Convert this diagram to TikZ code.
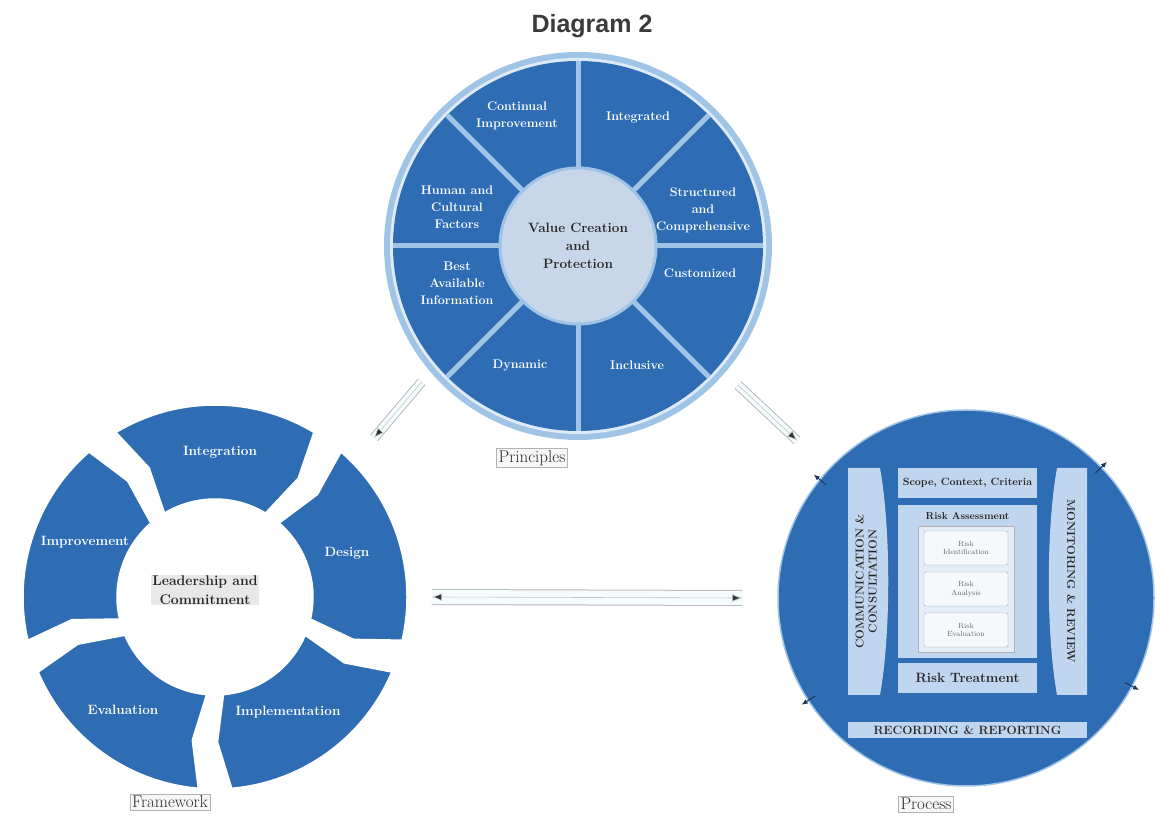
\documentclass[tikz,border=0pt]{standalone}
\usepackage{fontspec}
\newfontfamily\titlefont{Liberation Sans}
\usetikzlibrary{arrows.meta,positioning,calc}

\definecolor{segblue}{RGB}{46,108,180}
\definecolor{rimblue}{RGB}{160,196,230}
\definecolor{paleblue}{RGB}{192,214,238}
\definecolor{corefill}{RGB}{200,214,234}
\definecolor{inkgray}{RGB}{58,58,58}

\tikzset{
  seglabel/.style={text=white, font=\bfseries\fontsize{12.5}{17}\selectfont, align=center, inner sep=0pt},
  ringlabel/.style={text=white, font=\bfseries\fontsize{13.5}{17}\selectfont, inner sep=0pt},
  corelabel/.style={text=black!85, font=\bfseries\fontsize{13.5}{18}\selectfont, align=center},
  fwseg/.style={fill=segblue, draw=white, line width=1.5pt},
  pbox/.style={fill=paleblue, inner sep=0pt, text=black!85, font=\bfseries\fontsize{#1}{#1}\selectfont},
  subbox/.style={fill=white!85!paleblue, draw=gray!70, rounded corners=2pt, minimum width=84pt, minimum height=34pt,
    align=center, text=gray!80!black, font=\fontsize{7.5}{8.5}\selectfont},
  tag/.style={draw=gray!60, fill=gray!6, text=gray!35!black, font=\fontsize{17}{19}\selectfont, inner sep=2pt},
  linkband/.style={draw=gray!55, double=cyan!4, double distance=#1, line width=1pt},
  linktip/.style={draw=gray!45, line width=0.6pt},
  linkhead/.tip={Latex[length=10pt,width=8pt,fill=gray!40!black]},
  edgetip/.style={-{Latex[length=6pt,width=5pt]}, draw=segblue!50!black, line width=1pt}
}

\begin{document}
\begin{tikzpicture}[x=1pt,y=1pt]
\useasboundingbox (0,0) rectangle (1161,819);

\node[font=\titlefont\bfseries\fontsize{25}{28}\selectfont, text=inkgray] (title) at (592,793) {Diagram 2};

% principles wheel
\coordinate (prin) at (578,573);
\fill[rimblue] (prin) circle (194);
\fill[rimblue!35!white] (prin) circle (188);
\fill[segblue] (prin) circle (185);
\foreach \a in {0,45,...,315}
  \draw[rimblue, line width=5pt] (prin) -- ++(\a:185);
\node[circle, fill=corefill, draw=rimblue, line width=3pt, minimum size=156pt] (core) at (prin) {};
\node[corelabel] (vcp) at (prin) {Value Creation\\and\\Protection};
\foreach \n/\x/\y/\txt in {
    contin/-61/130/{Continual\\Improvement},
    integ/60/129/Integrated,
    struct/125/36/{Structured\\and\\Comprehensive},
    custom/122/-27/Customized,
    incl/59/-119/Inclusive,
    dyn/-58/-119/Dynamic,
    best/-121/-37/{Best\\Available\\Information},
    human/-121/39/{Human and\\Cultural\\Factors}}
  \node[seglabel] (p-\n) at ($(prin)+(\x,\y)$) {\txt};
\node[tag] (prinTag) at (532,361) {Principles};

% framework ring
\coordinate (frame) at (215,222);
\begin{scope}[shift={(frame)}]
  \foreach \a in {90,18,-54,-126,-198}
    \path[fwseg] (\a+31:192) arc[start angle=\a+31, end angle=\a-31, radius=192]
      -- (\a-35:145) -- (\a-31:98) arc[start angle=\a-31, end angle=\a+31, radius=98]
      -- (\a+27:145) -- cycle;
\end{scope}
\foreach \n/\x/\y/\txt in {
    integ/5/145/Integration,
    design/132/44/Design,
    impl/73/-115/Implementation,
    eval/-92/-113/Evaluation,
    impr/-130/55/Improvement}
  \node[ringlabel] (f-\n) at ($(frame)+(\x,\y)$) {\txt};
\node[corelabel, font=\bfseries\fontsize{14}{19}\selectfont, fill=gray!18, inner sep=1pt] (lead) at ($(frame)+(-10,7)$) {Leadership and\\Commitment};
\node[tag] (frameTag) at (170,17) {Framework};

% process circle
\coordinate (proc) at (966,221);
\fill[segblue] (proc) circle (188);
\draw[rimblue, line width=1.5pt] (proc) circle (188);

\fill[paleblue] (848,124) -- (848,351) -- (880,351) .. controls (891,290) and (891,185) .. (880,124) -- cycle;
\fill[paleblue] (1087,124) -- (1087,351) -- (1057,351) .. controls (1046,290) and (1046,185) .. (1057,124) -- cycle;
\node[rotate=90, align=center, text=black!85, font=\bfseries\fontsize{11.5}{13}\selectfont] (comm) at (866,237.5) {COMMUNICATION \&\\CONSULTATION};
\node[rotate=-90, text=black!85, font=\bfseries\fontsize{11.5}{13}\selectfont] (monit) at (1071,237.5) {MONITORING \& REVIEW};

\node[pbox=10.5, minimum width=139pt, minimum height=30pt] (scope) at (967.5,336) {Scope, Context, Criteria};
\node[pbox=10.5, minimum width=139pt, minimum height=153pt] (assess) at (967.5,237.5) {};
\node[text=black!85, font=\bfseries\fontsize{10}{10}\selectfont, below=4pt of assess.north] (assessTitle) {Risk Assessment};
\node[fill=white!55!paleblue, draw=gray!60, minimum width=96pt, minimum height=126pt] (inner) at (966,230) {};
\node[subbox] (ident) at (966,271) {Risk\\Identification};
\node[subbox] (anal) at (966,230) {Risk\\Analysis};
\node[subbox] (evalu) at (966,189) {Risk\\Evaluation};
\node[pbox=13.5, minimum width=139pt, minimum height=30pt] (treat) at (967.5,141) {Risk Treatment};
\node[pbox=12, minimum width=239pt, minimum height=16pt] (record) at (967.5,89) {RECORDING \& REPORTING};

% small tips on the process rim
\foreach \a [count=\i] in {141,44,213,-28} {
  \coordinate (rimIn\i) at ($(proc)+(\a:180)$);
  \coordinate (rimOut\i) at ($(proc)+(\a:196)$);
  \draw[edgetip] (rimIn\i) -- (rimOut\i);
}
\node[tag] (procTag) at (926,15) {Process};

% links between the three parts
\coordinate (prin-sw) at ($(prin)+(221:207)$);
\coordinate (frame-ne) at ($(frame)+(45:225)$);
\coordinate (prin-se) at ($(prin)+(-41:212)$);
\coordinate (proc-nw) at ($(proc)+(137:231)$);
\coordinate (frame-e) at ($(frame)+(0:217)$);
\coordinate (proc-w) at ($(proc)+(180:224)$);

\draw[linkband=8pt] (prin-sw) -- (frame-ne);
\draw[linktip, -linkhead] (prin-sw) -- (frame-ne);
\draw[linkband=8pt] (prin-se) -- (proc-nw);
\draw[linktip, -linkhead] (prin-se) -- (proc-nw);
\draw[linkband=14pt] (frame-e) -- (proc-w);
\draw[linktip, linkhead-linkhead] (frame-e) -- (proc-w);

\end{tikzpicture}
\end{document}
